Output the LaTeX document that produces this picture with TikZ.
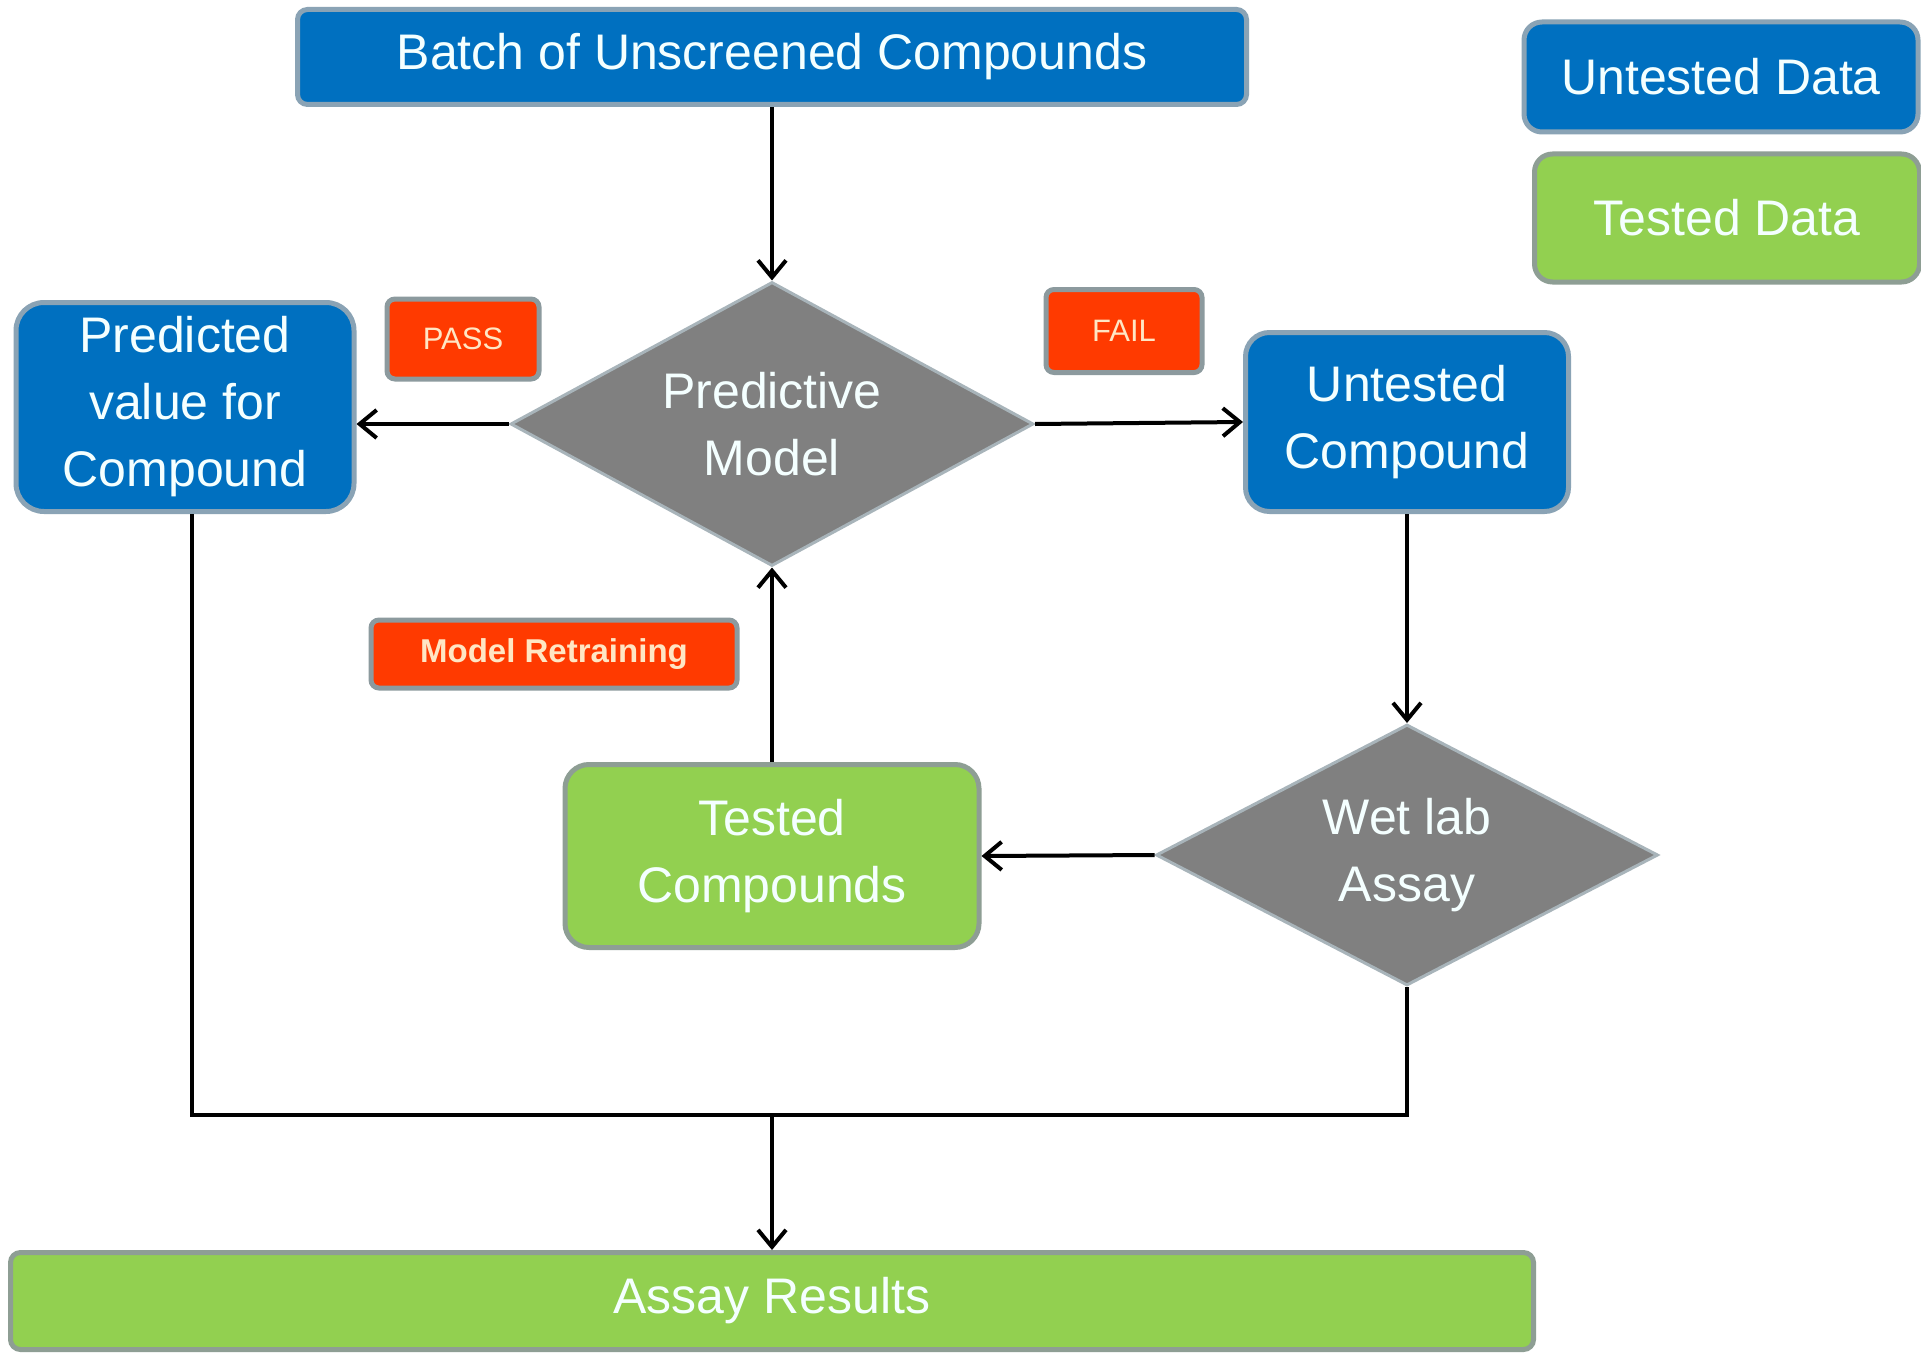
\documentclass[tikz,border=0pt]{standalone}
\usepackage{fontspec}
\setmainfont{Liberation Sans}
\usetikzlibrary{shapes.geometric,arrows.meta}
\definecolor{bluef}{HTML}{0070C0}
\definecolor{blueb}{HTML}{8AA3B5}
\definecolor{greenf}{HTML}{92D050}
\definecolor{greenb}{HTML}{8E9E94}
\definecolor{redf}{HTML}{FF3A00}
\definecolor{redb}{HTML}{8C9A9E}
\definecolor{grayf}{HTML}{808080}
\definecolor{grayb}{HTML}{A8B4BA}
\definecolor{txt}{HTML}{F4FFFF}
\definecolor{smalltxt}{HTML}{FFE6C4}
\tikzset{
  box/.style={rectangle, rounded corners=#1, line width=5pt, inner sep=0pt, align=center, text=txt, font=\fontsize{50}{67}\selectfont},
  bluebox/.style={box=#1, fill=bluef, draw=blueb},
  greenbox/.style={box=#1, fill=greenf, draw=greenb},
  tag/.style={rectangle, rounded corners=8pt, line width=5pt, fill=redf, draw=redb, inner sep=0pt, text=smalltxt, font=\fontsize{31}{36}\selectfont},
  dia/.style={diamond, fill=grayf, draw=grayb, line width=3pt, inner sep=0pt, align=center, text=txt, font=\fontsize{50}{67}\selectfont},
  conn/.style={line width=4pt, draw=black},
  arr/.style={conn, -{Straight Barb[length=17pt,width=28pt,line width=4pt]}}
}
\begin{document}
\begin{tikzpicture}[x=1pt,y=-1pt]
\useasboundingbox (0,0) rectangle (1921,1356);
\fill[white] (0,0) rectangle (1921,1356);

\node[bluebox=10pt, minimum width=949pt, minimum height=95pt] (batch) at (772,57) {Batch of Unscreened Compounds};
\node[bluebox=18pt, minimum width=394pt, minimum height=110pt] (leg1) at (1721,77) {Untested Data};
\node[greenbox=18pt, minimum width=385pt, minimum height=128pt] (leg2) at (1727,218) {Tested Data};

\node[bluebox=28pt, minimum width=338pt, minimum height=209pt] (pred) at (185,407) {Predicted\\value for\\Compound};
\node[tag, minimum width=152pt, minimum height=80pt] (pass) at (463,339) {PASS};

\node[dia, minimum width=523pt, minimum height=284pt, shape aspect=1.84] (model) at (772,424) {Predictive\\Model};
\node[tag, minimum width=156pt, minimum height=83pt] (fail) at (1124,331) {FAIL};

\node[bluebox=24pt, minimum width=323pt, minimum height=179pt] (untest) at (1407,422) {Untested\\Compound};

\node[tag, minimum width=366pt, minimum height=68pt, font=\bfseries\fontsize{33}{40}\selectfont] (retrain) at (554,654) {Model Retraining};

\node[greenbox=24pt, minimum width=414pt, minimum height=183pt] (tested) at (772,856) {Tested\\Compounds};

\node[dia, minimum width=502pt, minimum height=261pt, shape aspect=1.92] (wet) at (1407,855) {Wet lab\\Assay};

\node[greenbox=10pt, minimum width=1523pt, minimum height=97pt] (assay) at (772,1301) {Assay Results};

\coordinate (jl) at (192,1115);
\coordinate (jm) at (772,1115);
\coordinate (jr) at (1407,1115);

\draw[arr] (batch.south) -- (model.north);
\draw[arr] (model.west) -- (model.west -| pred.east);
\draw[arr] (model.east) -- (untest.west);
\draw[arr] (untest.south) -- (wet.north);
\draw[arr] (wet.west) -- (tested.east);
\draw[arr] (tested.north) -- (model.south);
\draw[conn] (pred.south -| jl) -- (jl) -- (jr) -- (wet.south);
\draw[arr] (jm) -- (assay.north);
\end{tikzpicture}
\end{document}
